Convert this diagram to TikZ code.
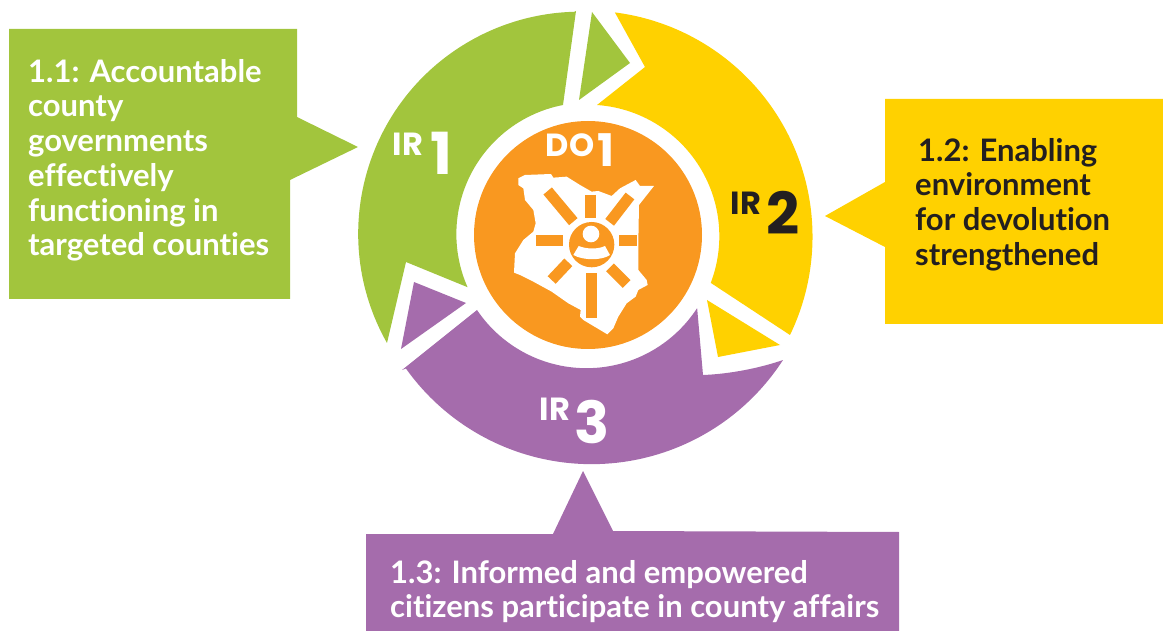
\documentclass[tikz,border=0pt]{standalone}
\usepackage{fontspec}
\setmainfont[Ligatures=NoCommon]{Lato}
\newfontfamily\labelfont{Poppins}
\usetikzlibrary{calc}
\definecolor{irgreen}{HTML}{A2C53D}
\definecolor{iryellow}{HTML}{FFD100}
\definecolor{irpurple}{HTML}{A56CAC}
\definecolor{doorange}{HTML}{F99820}
\definecolor{darktext}{HTML}{231F20}
\tikzset{
  callout/.style={anchor=north west,align=left,inner sep=0pt,font=\fontsize{31}{34.7}\selectfont\bfseries},
  irtag/.style={anchor=base,inner sep=0pt,font=\fontsize{32}{32}\selectfont\labelfont\bfseries},
  irnum/.style={anchor=base,inner sep=0pt,font=\fontsize{58}{58}\selectfont\labelfont\bfseries},
  bar/.style={doorange,line width=11pt}
}
\begin{document}
\begin{tikzpicture}[x=1pt,y=-1pt]
\useasboundingbox (0,0) rectangle (1163,631);
% callouts
\fill[irgreen] (9,29) -- (297,29) -- (297,117) -- (358,147) -- (290,180) -- (290,299) -- (9,299) -- cycle;
\fill[iryellow] (885,99) -- (1163,99) -- (1163,324) -- (885,324) -- (885,247) -- (825,216) -- (885,182) -- cycle;
\fill[irpurple] (366,534) -- (553,534) -- (583,471) -- (613,531) -- (899,532) -- (899,631) -- (366,631) -- cycle;
% ring
\fill[irgreen] (387,343) arc[start angle=150.5,end angle=268.5,radius=222] -- (576,11) -- (563,105)
  arc[start angle=259.1,end angle=156.2,radius=131.5] -- (406,262) -- cycle;
\fill[irgreen] (592,12) -- (630,63) -- (579,100) -- cycle;
\fill[iryellow] (790,335) arc[start angle=25.8,end angle=-82.8,radius=226] -- (645,67) -- (597,105)
  arc[start angle=-86,end angle=20.8,radius=131.5] -- cycle;
\fill[iryellow] (707,300) -- (780,345) -- (718,357) -- cycle;
\fill[irpurple] (783,360) arc[start angle=32.9,end angle=144.5,radius=228] -- (402,370) -- (477,310)
  arc[start angle=146,end angle=33,radius=132] -- (703,375) .. controls (730,374) and (760,368) .. cycle;
\fill[irpurple] (414,282) -- (466,303) -- (401,349) -- cycle;
% centre
\fill[doorange] (588,235) circle[radius=114];
\begin{scope}[shift={(470,110)},x=0.3333pt,y=-0.3333pt]
\fill[white] (145,205) -- (165,195) -- (243,192) -- (250,203) -- (290,200) -- (330,225) -- (365,245) -- (385,243)
  -- (425,258) -- (450,235) -- (497,210) -- (510,228) -- (552,228) -- (507,285) -- (505,400) -- (505,480)
  -- (530,510) -- (533,525) -- (505,540) -- (497,560) -- (470,580) -- (445,620) -- (430,655) -- (412,673)
  -- (340,630) -- (330,620) -- (332,600) -- (295,580) -- (245,545) -- (190,515) -- (150,495) -- (132,488)
  -- (135,430) -- (160,390) -- (190,365) -- (197,340) -- (190,300) -- (165,270) -- (160,235) -- (145,225) -- cycle;
\draw[bar] (362,255) -- (362,323);
\draw[bar] (419,337) -- (480,258);
\draw[bar] (233,243) -- (310,335);
\draw[bar] (198,393) -- (278,393);
\draw[bar] (448,393) -- (500,393);
\draw[bar] (245,510) -- (295,457);
\draw[bar] (420,472) -- (470,522);
\draw[bar] (365,490) -- (365,625);
% person
\fill[doorange] (365,404) circle[radius=68];
\fill[white] (363,372) circle[radius=25];
\fill[white] (310,435) -- (326,408) .. controls (350,418) and (385,418) .. (405,408) -- (420,435)
  .. controls (395,452) and (340,452) .. cycle;
\end{scope}
% labels
\node[callout,white] (goal1) at (28,59) {1.1: Accountable\\county\\governments\\effectively\\functioning in\\targeted counties};
\node[callout,darktext] (goal2) at (915,138) {\hspace{3pt}1.2: Enabling\\environment\\for devolution\\strengthened};
\node[callout,white] (goal3) at (390,560) {1.3: Informed and empowered\\citizens participate in county affairs};
\node[irtag,white] (tag1) at (408,156) {IR};
\node[irnum,white] (num1) at (441,175) {1};
\node[irtag,darktext] (tag2) at (746,215) {IR};
\node[irnum,darktext] (num2) at (783,235) {2};
\node[irtag,white] (tag3) at (555,420) {IR};
\node[irnum,white] (num3) at (592,443) {3};
\node[irtag,white] (tagdo) at (570,157) {DO};
\node[anchor=base,inner sep=0pt,white,font=\fontsize{45}{45}\selectfont\labelfont\bfseries] (numdo) at (606,167) {1};
\end{tikzpicture}
\end{document}
